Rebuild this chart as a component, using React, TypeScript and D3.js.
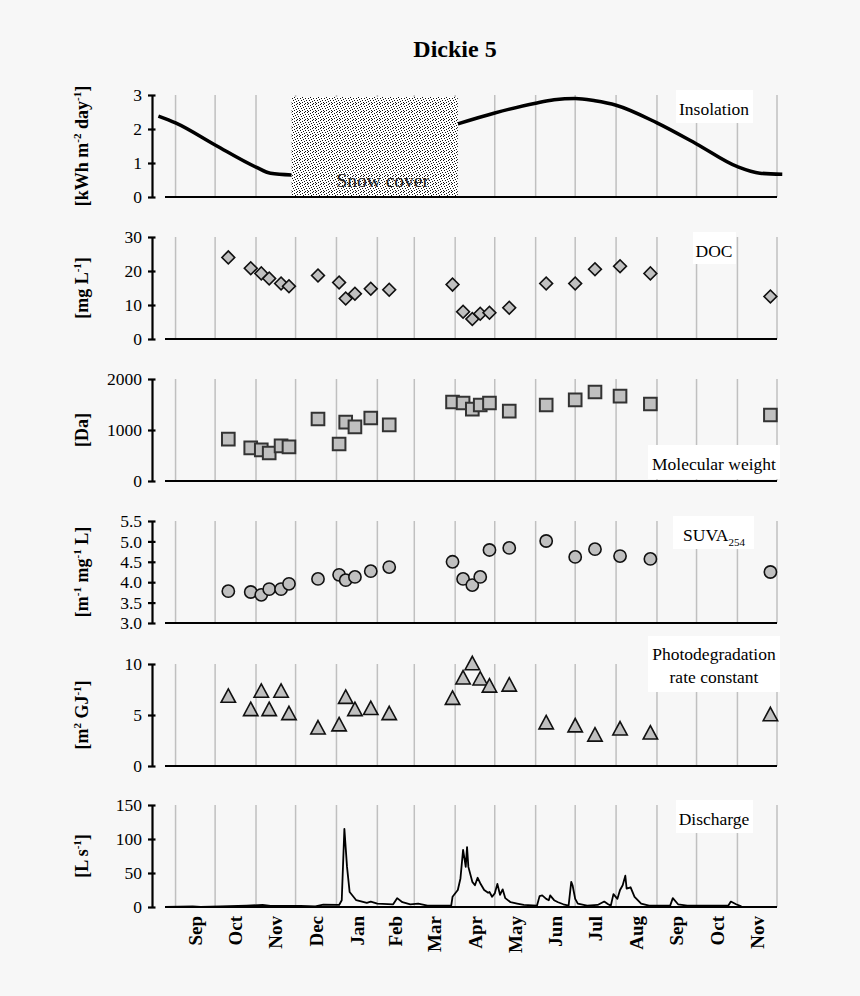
import { useEffect, useRef } from "react";
import * as d3 from "d3";

const parseDate = d3.timeParse("%Y-%m-%d");

// sampling dates shared by the four chemistry panels
const sampleDates = [
  "2001-10-11", "2001-10-28", "2001-11-05", "2001-11-11", "2001-11-20", "2001-11-26",
  "2001-12-18", "2002-01-03", "2002-01-08", "2002-01-15", "2002-01-27", "2002-02-10",
  "2002-03-30", "2002-04-07", "2002-04-14", "2002-04-20", "2002-04-27", "2002-05-12",
  "2002-06-09", "2002-07-01", "2002-07-16", "2002-08-04", "2002-08-27", "2002-11-26",
];
const docValues = [
  24.0, 20.8, 19.3, 17.8, 16.3, 15.5, 18.7, 16.6, 11.9, 13.3, 14.8, 14.5,
  16.0, 8.0, 5.9, 7.4, 7.7, 9.2, 16.3, 16.3, 20.5, 21.4, 19.3, 12.5,
];
const mwValues = [
  820, 650, 610, 550, 690, 670, 1215, 725, 1155, 1060, 1235, 1100,
  1550, 1530, 1410, 1490, 1530, 1370, 1490, 1590, 1745, 1665, 1510, 1295,
];
const suvaValues = [
  3.78, 3.76, 3.69, 3.83, 3.83, 3.96, 4.08, 4.18, 4.05, 4.13, 4.27, 4.37,
  4.5, 4.08, 3.93, 4.13, 4.79, 4.84, 5.01, 4.62, 4.81, 4.64, 4.57, 4.25,
];
const photoValues = [
  6.9, 5.6, 7.4, 5.6, 7.4, 5.2, 3.8, 4.1, 6.8, 5.6, 5.7, 5.2,
  6.7, 8.7, 10.1, 8.6, 7.9, 8.0, 4.3, 4.0, 3.1, 3.7, 3.3, 5.1,
];

const insolationDates = [
  "2001-08-19", "2001-09-01", "2001-10-01", "2001-11-01", "2001-11-12", "2001-11-28",
  "2002-04-03", "2002-05-01", "2002-06-01", "2002-06-15", "2002-07-01", "2002-07-16",
  "2002-08-01", "2002-09-01", "2002-10-01", "2002-11-01", "2002-11-18", "2002-12-05",
];
const insolationValues = [
  2.38, 2.18, 1.53, 0.88, 0.7, 0.65,
  2.15, 2.47, 2.76, 2.86, 2.9, 2.83,
  2.7, 2.18, 1.56, 0.89, 0.7, 0.67,
];
const snowCover = ["2001-11-28", "2002-04-03"];

const dischargeDates = [
  "2001-08-24", "2001-09-14", "2001-09-20", "2001-10-05", "2001-10-25", "2001-11-06",
  "2001-11-12", "2001-12-05", "2001-12-16", "2001-12-22", "2002-01-03", "2002-01-05",
  "2002-01-07", "2002-01-09", "2002-01-11", "2002-01-16", "2002-01-24", "2002-01-27",
  "2002-02-01", "2002-02-13", "2002-02-16", "2002-02-20", "2002-02-26", "2002-03-04",
  "2002-03-11", "2002-03-29", "2002-03-30", "2002-04-03", "2002-04-05", "2002-04-07",
  "2002-04-08", "2002-04-09", "2002-04-10", "2002-04-11", "2002-04-14", "2002-04-16",
  "2002-04-18", "2002-04-20", "2002-04-23", "2002-04-26", "2002-04-27", "2002-04-29",
  "2002-05-01", "2002-05-03", "2002-05-05", "2002-05-07", "2002-05-09", "2002-05-13",
  "2002-05-18", "2002-05-23", "2002-06-02", "2002-06-04", "2002-06-06", "2002-06-09",
  "2002-06-11", "2002-06-12", "2002-06-15", "2002-06-18", "2002-06-22", "2002-06-26",
  "2002-06-28", "2002-06-29", "2002-07-01", "2002-07-03", "2002-07-10", "2002-07-18",
  "2002-07-23", "2002-07-26", "2002-07-28", "2002-07-30", "2002-08-02", "2002-08-04",
  "2002-08-06", "2002-08-08", "2002-08-09", "2002-08-12", "2002-08-15", "2002-08-20",
  "2002-08-26", "2002-09-11", "2002-09-13", "2002-09-17", "2002-09-24", "2002-10-25",
  "2002-10-27", "2002-10-31", "2002-11-04",
];
const dischargeValues = [
  0, 1, 0.3, 1, 2, 3,
  1.5, 1.5, 1, 3.5, 3, 10,
  115, 59, 22, 10, 6, 8,
  5, 4, 13, 7, 4, 5,
  2, 2, 15, 25, 42, 84,
  72, 59, 88, 59, 37, 32,
  43, 35, 25, 21, 22, 15,
  20, 34, 18, 26, 13, 7,
  5, 3, 2, 16, 17, 12,
  10, 17, 10, 7, 4, 2,
  37, 32, 12, 5, 2, 3,
  8, 4, 2, 19, 12, 25,
  32, 46, 27, 29, 15, 5,
  2, 2, 13, 4, 2, 2,
  8, 4, 1,
];

const monthFirst = "2001-09-01";
const monthLast = "2002-12-01";
const axisStart = "2001-08-24";

const W = 860;
const H = 996;
const FONT = "'Liberation Serif', 'Times New Roman', serif";
const GRAY = "#c0c0c0";

// stipple tile for the snow-cover box (8x8 px)
const stippleDots = [
  [0, 0], [3, 0], [6, 1], [1, 2], [4, 2], [7, 3], [2, 4], [5, 4],
  [0, 5], [3, 6], [6, 6], [1, 7], [4, 7],
];

type Seg = [string, "" | "sup" | "sub"];

interface Panel {
  top: number;
  domain: [number, number];
  ticks: number[];
  fmt: (n: number) => string;
  unit: Seg[];
  box: [number, number, number, number];
  lines: { segs: Seg[]; y: number }[];
}

const panelH = 102;

const panels: Panel[] = [
  {
    top: 95, domain: [0, 3], ticks: [0, 1, 2, 3], fmt: d3.format("d"),
    unit: [["[kWh m", ""], ["-2", "sup"], [" day", ""], ["-1", "sup"], ["]", ""]],
    box: [676, 90, 77, 33], lines: [{ segs: [["Insolation", ""]], y: 115 }],
  },
  {
    top: 237, domain: [0, 30], ticks: [0, 10, 20, 30], fmt: d3.format("d"),
    unit: [["[mg L", ""], ["-1", "sup"], ["]", ""]],
    box: [693, 232, 43, 32], lines: [{ segs: [["DOC", ""]], y: 257 }],
  },
  {
    top: 379, domain: [0, 2000], ticks: [0, 1000, 2000], fmt: d3.format("d"),
    unit: [["[Da]", ""]],
    box: [648, 445, 132, 34], lines: [{ segs: [["Molecular weight", ""]], y: 470 }],
  },
  {
    top: 521, domain: [3, 5.5], ticks: [3, 3.5, 4, 4.5, 5, 5.5], fmt: d3.format(".1f"),
    unit: [["[m", ""], ["-1", "sup"], [" mg", ""], ["-1", "sup"], [" L]", ""]],
    box: [673, 516, 81, 33], lines: [{ segs: [["SUVA", ""], ["254", "sub"]], y: 541 }],
  },
  {
    top: 664, domain: [0, 10], ticks: [0, 5, 10], fmt: d3.format("d"),
    unit: [["[m", ""], ["2", "sup"], [" GJ", ""], ["-1", "sup"], ["]", ""]],
    box: [648, 636, 132, 56],
    lines: [
      { segs: [["Photodegradation", ""]], y: 660 },
      { segs: [["rate constant", ""]], y: 683 },
    ],
  },
  {
    top: 805, domain: [0, 150], ticks: [0, 50, 100, 150], fmt: d3.format("d"),
    unit: [["[L s", ""], ["-1", "sup"], ["]", ""]],
    box: [676, 800, 77, 33], lines: [{ segs: [["Discharge", ""]], y: 825 }],
  },
];

function writeSegs(text: d3.Selection<SVGTextElement, unknown, null, undefined>, segs: Seg[], small: number) {
  let shift = 0;
  segs.forEach(([t, kind]) => {
    const target = kind === "sup" ? -7 : kind === "sub" ? 5 : 0;
    const ts = text.append("tspan").attr("dy", target - shift).text(t);
    if (kind) ts.attr("font-size", small);
    shift = target;
  });
}

export default function App() {
  const svgRef = useRef<SVGSVGElement>(null);

  useEffect(() => {
    if (!svgRef.current) return;
    const svg = d3.select(svgRef.current);
    svg.selectAll("*").remove();

    // stipple for the snow cover period
    const pat = svg
      .append("defs")
      .append("pattern")
      .attr("id", "snow")
      .attr("width", 8)
      .attr("height", 8)
      .attr("patternUnits", "userSpaceOnUse");
    pat.append("rect").attr("width", 8).attr("height", 8).attr("fill", "#fff");
    stippleDots.forEach(([px, py]) => {
      pat.append("rect")
        .attr("x", px)
        .attr("y", py)
        .attr("width", 1)
        .attr("height", 1)
        .attr("fill", "#111");
    });

    svg.append("rect").attr("width", W).attr("height", H).attr("fill", "#f7f7f7");

    svg.append("text")
      .attr("x", 455)
      .attr("y", 57)
      .attr("text-anchor", "middle")
      .attr("font-family", FONT)
      .attr("font-weight", "bold")
      .attr("font-size", 24)
      .text("Dickie 5");

    const x = d3
      .scaleTime()
      .domain([parseDate(axisStart)!, parseDate(monthLast)!])
      .range([165, 777]);

    const months = d3.timeMonth.range(
      parseDate(monthFirst)!,
      d3.timeDay.offset(parseDate(monthLast)!, 1)
    );

    const samples = sampleDates.map((d) => parseDate(d)!);
    const series = [null, docValues, mwValues, suvaValues, photoValues, null];

    const diamond = d3.symbol(d3.symbolSquare, 82)()!;
    const square = d3.symbol(d3.symbolSquare, 160)()!;
    const circle = d3.symbol(d3.symbolCircle, 118)()!;
    const triangle = "M0,-6.7L7.2,6.7L-7.2,6.7Z";
    const shapes = [null, diamond, square, circle, triangle, null];

    panels.forEach((p, i) => {
      const bottom = p.top + panelH;
      const y = d3.scaleLinear().domain(p.domain).range([bottom, p.top]);
      const g = svg.append("g");

      // month gridlines
      g.selectAll(".grid")
        .data(months)
        .enter()
        .append("line")
        .attr("x1", (d) => x(d))
        .attr("x2", (d) => x(d))
        .attr("y1", p.top)
        .attr("y2", bottom)
        .attr("stroke", GRAY)
        .attr("stroke-width", 1.5);

      // label box
      g.append("rect")
        .attr("x", p.box[0])
        .attr("y", p.box[1])
        .attr("width", p.box[2])
        .attr("height", p.box[3])
        .attr("fill", "#fff");
      p.lines.forEach((ln) => {
        const t = g.append("text")
          .attr("x", 714)
          .attr("y", ln.y)
          .attr("text-anchor", "middle")
          .attr("font-family", FONT)
          .attr("font-size", 17.5);
        writeSegs(t, ln.segs, 11);
      });

      if (i === 0) {
        const pts = insolationDates.map((d, k) => ({ date: parseDate(d)!, v: insolationValues[k] }));
        const s0 = parseDate(snowCover[0])!;
        const s1 = parseDate(snowCover[1])!;
        const line = d3
          .line<{ date: Date; v: number }>()
          .x((d) => x(d.date))
          .y((d) => y(d.v))
          .curve(d3.curveMonotoneX);
        [pts.filter((d) => d.date <= s0), pts.filter((d) => d.date >= s1)].forEach((seg) => {
          g.append("path")
            .attr("d", line(seg))
            .attr("fill", "none")
            .attr("stroke", "#000")
            .attr("stroke-width", 3.5);
        });
        g.append("rect")
          .attr("x", x(s0))
          .attr("y", p.top + 2)
          .attr("width", x(s1) - x(s0))
          .attr("height", bottom - p.top - 2)
          .attr("fill", "url(#snow)");
        g.append("text")
          .attr("x", (x(s0) + x(s1)) / 2 + 8)
          .attr("y", 187)
          .attr("text-anchor", "middle")
          .attr("font-family", FONT)
          .attr("font-size", 19.5)
          .attr("fill", "#222")
          .text("Snow cover");
      } else if (i === 5) {
        const pts = dischargeDates.map((d, k) => ({ date: parseDate(d)!, v: dischargeValues[k] }));
        const line = d3
          .line<{ date: Date; v: number }>()
          .x((d) => x(d.date))
          .y((d) => y(d.v));
        g.append("path")
          .attr("d", line(pts))
          .attr("fill", "none")
          .attr("stroke", "#000")
          .attr("stroke-width", 1.8)
          .attr("stroke-linejoin", "round");
      } else {
        const vals = series[i]!;
        g.selectAll(".mark")
          .data(samples)
          .enter()
          .append("path")
          .attr("d", shapes[i]!)
          .attr("transform", (d, k) =>
            `translate(${x(d)},${y(vals[k])})${i === 1 ? " rotate(45)" : ""}`
          )
          .attr("fill", "#c0c0c0")
          .attr("stroke", i === 2 ? "#333" : "#111")
          .attr("stroke-width", i === 2 ? 2 : 1.6);
      }

      // baseline
      g.append("line")
        .attr("x1", x.range()[0])
        .attr("x2", x.range()[1])
        .attr("y1", bottom)
        .attr("y2", bottom)
        .attr("stroke", "#000")
        .attr("stroke-width", 2);

      // y axis
      const ax = g.append("g")
        .attr("transform", "translate(152,0)")
        .call(
          d3.axisLeft(y)
            .tickValues(p.ticks)
            .tickSizeInner(4)
            .tickSizeOuter(0)
            .tickPadding(6)
            .tickFormat((d) => p.fmt(d as number))
        );
      ax.select(".domain").attr("stroke", "#000").attr("stroke-width", 2.2);
      ax.selectAll(".tick line").attr("x1", 3.5).attr("x2", -4).attr("stroke", "#000").attr("stroke-width", 2.2);
      ax.selectAll(".tick text")
        .attr("font-family", FONT)
        .attr("font-size", 17.5)
        .attr("fill", "#000");

      // unit label
      const ut = g.append("text")
        .attr("transform", `translate(88,${(p.top + bottom) / 2}) rotate(-90)`)
        .attr("text-anchor", "middle")
        .attr("dy", "0.35em")
        .attr("font-family", FONT)
        .attr("font-weight", "bold")
        .attr("font-size", 18);
      writeSegs(ut, p.unit, 11);
    });

    // month labels
    const bottomY = panels[5].top + panelH;
    svg.append("g")
      .selectAll("text")
      .data(months.slice(0, -1))
      .enter()
      .append("text")
      .attr("transform", (d) => {
        const mid = (x(d) + x(d3.timeMonth.offset(d, 1))) / 2;
        return `translate(${mid},${bottomY + 9}) rotate(-90)`;
      })
      .attr("dy", "0.35em")
      .attr("text-anchor", "end")
      .attr("font-family", FONT)
      .attr("font-weight", "bold")
      .attr("font-size", 19)
      .text((d) => d3.timeFormat("%b")(d));
  }, []);

  return (
    <svg
      ref={svgRef}
      width={W}
      height={H}
      style={{ position: "absolute", left: 0, top: 0 }}
    />
  );
}
